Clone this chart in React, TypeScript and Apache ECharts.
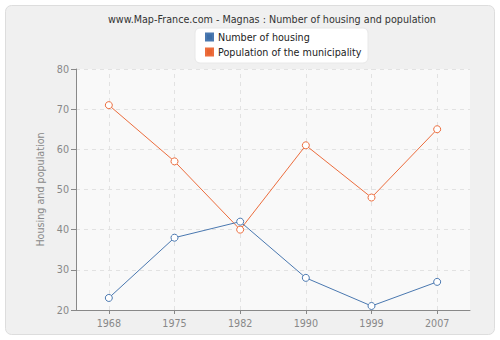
import React, { useEffect, useRef } from "react";
import * as echarts from "echarts";

const years = ["1968", "1975", "1982", "1990", "1999", "2007"];
const housing = [23, 38, 42, 28, 21, 27];
const population = [71, 57, 40, 61, 48, 65];
const titleText = "www.Map-France.com - Magnas : Number of housing and population";
const yName = "Housing and population";

const FONT = "DejaVu Sans";
const FS = 9.6;

export default function App() {
  const ref = useRef<HTMLDivElement>(null);
  useEffect(() => {
    const chart = echarts.init(ref.current!, null, { renderer: "svg" });
    chart.setOption({
      animation: false,
      backgroundColor: "#ffffff",
      graphic: [
        {
          type: "rect",
          shape: { x: 5.5, y: 5.5, width: 489, height: 329, r: 6 },
          style: { fill: "#f0f0f0", stroke: "#dddddd", lineWidth: 1 },
          z: -10,
        },
        {
          type: "rect",
          shape: { x: 195, y: 28, width: 173, height: 35, r: 5 },
          style: { fill: "#ffffff", stroke: "#e8e8e8", lineWidth: 1 },
          z: -5,
        },
      ],
      title: {
        text: titleText,
        left: 103,
        top: 9,
        textStyle: { fontFamily: FONT, fontSize: FS, fontWeight: "normal", color: "#333" },
      },
      legend: {
        orient: "vertical",
        left: 200,
        top: 27,
        itemWidth: 7,
        itemHeight: 7,
        itemGap: 5,
        icon: "rect",
        textStyle: { fontFamily: FONT, fontSize: FS, color: "#222" },
        data: [
          { name: "Number of housing", itemStyle: { color: "#3d6ea8" } },
          { name: "Population of the municipality", itemStyle: { color: "#e8632f" } },
        ],
      },
      grid: {
        left: 76,
        right: 30,
        top: 69,
        bottom: 30,
        show: true,
        backgroundColor: "#f9f9f9",
        borderWidth: 0,
      },
      xAxis: {
        type: "category",
        data: years,
        boundaryGap: true,
        axisLine: { lineStyle: { color: "#888" } },
        axisTick: { show: true, alignWithLabel: true, length: 4, lineStyle: { color: "#888" } },
        axisLabel: { fontFamily: FONT, fontSize: FS, color: "#888", margin: 8 },
        splitLine: { show: false },
      },
      yAxis: {
        type: "value",
        min: 20,
        max: 80,
        interval: 10,
        name: yName,
        nameLocation: "middle",
        nameGap: 31,
        nameTextStyle: { fontFamily: FONT, fontSize: FS, color: "#888" },
        axisLine: { show: true, lineStyle: { color: "#888" } },
        axisTick: { show: true, length: 5, lineStyle: { color: "#888" } },
        axisLabel: { fontFamily: FONT, fontSize: FS, color: "#888", margin: 7 },
        splitLine: { show: true, lineStyle: { color: "#e2e2e2", type: [4, 4] } },
      },
      series: [
        {
          name: "Number of housing",
          type: "line",
          data: housing,
          symbol: "circle",
          symbolSize: 7,
          lineStyle: { color: "#4a78b0", width: 1 },
          itemStyle: { color: "#ffffff", borderColor: "#4a78b0", borderWidth: 1 },
          z: 3,
          markLine: {
            silent: true,
            symbol: "none",
            label: { show: false },
            lineStyle: { color: "#e2e2e2", type: [4, 4], width: 1 },
            data: years.map((y) => ({ xAxis: y })),
            z: 1,
          },
        },
        {
          name: "Population of the municipality",
          type: "line",
          data: population,
          symbol: "circle",
          symbolSize: 7,
          lineStyle: { color: "#ec6d3d", width: 1 },
          itemStyle: { color: "#ffffff", borderColor: "#ec6d3d", borderWidth: 1 },
          z: 2,
        },
      ],
    });
    return () => chart.dispose();
  }, []);
  return <div ref={ref} style={{ width: 500, height: 340, position: "absolute", left: 0, top: 0 }} />;
}
